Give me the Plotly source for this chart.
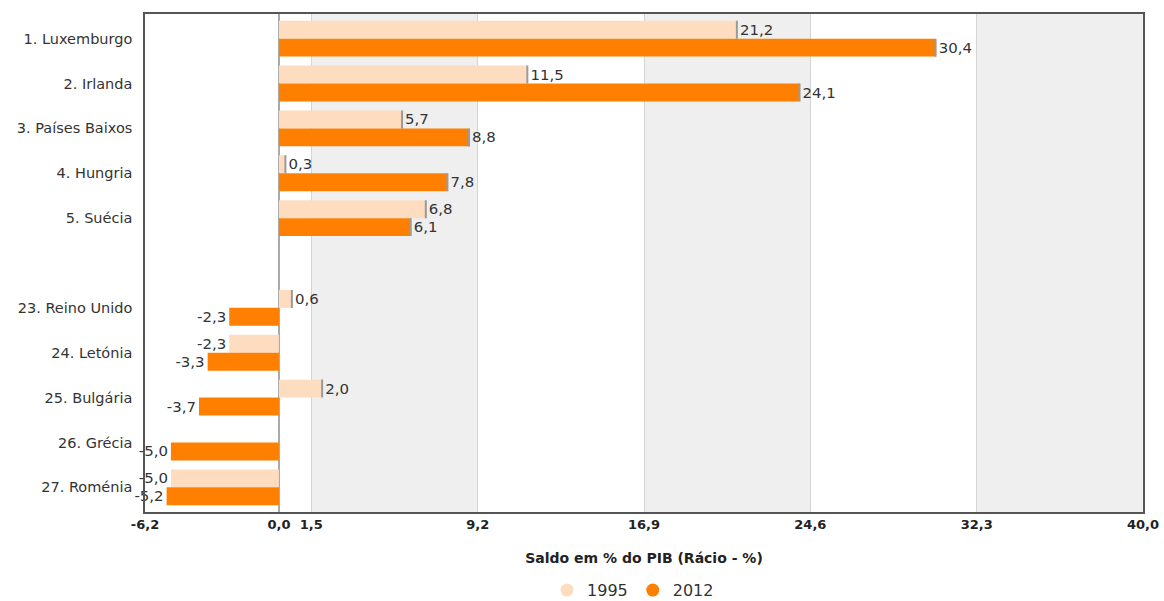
import plotly.graph_objects as go

categories = ["1. Luxemburgo", "2. Irlanda", "3. Países Baixos", "4. Hungria", "5. Suécia", " ",
              "23. Reino Unido", "24. Letónia", "25. Bulgária", "26. Grécia", "27. Roménia"]
v1995 = [21.2, 11.5, 5.7, 0.3, 6.8, None, 0.6, -2.3, 2.0, None, -5.0]
v2012 = [30.4, 24.1, 8.8, 7.8, 6.1, None, -2.3, -3.3, -3.7, -5.0, -5.2]
tick_vals = [-6.2, 0.0, 1.5, 9.2, 16.9, 24.6, 32.3, 40.0]
tick_text = ["-6,2", "0,0", "1,5", "9,2", "16,9", "24,6", "32,3", "40,0"]
series_names = ["1995", "2012"]
colors = ["#FDDCC0", "#FF8000"]

FONT = "DejaVu Sans"


def fmt(v):
    return "" if v is None else f"{v:.1f}".replace(".", ",")


def caps(vals):
    # small grey end-cap (shadow) only at the outer end of positive bars
    return [0 if (v is not None and v > 0) else "nan" for v in vals]


fig = go.Figure()
for name, vals, col in zip(series_names, [v1995, v2012], colors):
    fig.add_trace(go.Bar(
        y=categories, x=vals, orientation="h", name=name,
        marker=dict(color=col, line=dict(width=0)),
        text=[fmt(v) for v in vals], textposition="outside",
        textfont=dict(family=FONT, size=15, color="#333333"),
        cliponaxis=False, showlegend=False,
        error_x=dict(type="data", array=caps(vals), symmetric=True,
                     color="#9a9a9a", thickness=2, width=9),
        hoverinfo="skip",
    ))
    fig.add_trace(go.Scatter(
        x=[None], y=[None], mode="markers", name=name,
        marker=dict(color=col, size=13, symbol="circle"), showlegend=True,
    ))

# alternating bands between grid ticks
for i in range(2, len(tick_vals) - 1, 2):
    fig.add_shape(type="rect", xref="x", yref="paper",
                  x0=tick_vals[i], x1=tick_vals[i + 1], y0=0, y1=1,
                  fillcolor="#EFEFEF", line=dict(width=0), layer="below")

fig.update_layout(
    width=1164, height=601,
    margin=dict(l=145, r=21, t=14, b=89, autoexpand=False),
    paper_bgcolor="white", plot_bgcolor="white",
    barmode="group", bargap=0.2, bargroupgap=0.0,
    font=dict(family=FONT, size=12, color="#333333"),
    legend=dict(orientation="h", x=0.489, xanchor="center", y=-0.157, yanchor="middle",
                font=dict(family=FONT, size=16, color="#333333"),
                itemwidth=30, tracegroupgap=0),
)
fig.update_xaxes(
    automargin=False,
    range=[tick_vals[0], tick_vals[-1]], tickmode="array", tickvals=tick_vals, ticktext=tick_text,
    showgrid=True, gridcolor="#D4D4D4", gridwidth=1,
    zeroline=True, zerolinecolor="#AAAAAA", zerolinewidth=2,
    showline=True, mirror=True, linecolor="#555555", linewidth=1.5,
    ticks="", tickfont=dict(family=FONT, size=13, color="#222222", weight="bold"),
    title=dict(text="Saldo em % do PIB (Rácio - %)", standoff=22,
               font=dict(family=FONT, size=14, color="#222222", weight="bold")),
)
fig.update_yaxes(
    automargin=False,
    categoryorder="array", categoryarray=categories, autorange=False,
    range=[len(categories) - 0.45, -0.55],
    showgrid=False, showline=True, mirror=True, linecolor="#555555", linewidth=1.5,
    ticks="", ticklabelstandoff=8,
    tickfont=dict(family=FONT, size=14.5, color="#333333"),
)
fig.write_html("out.html")
